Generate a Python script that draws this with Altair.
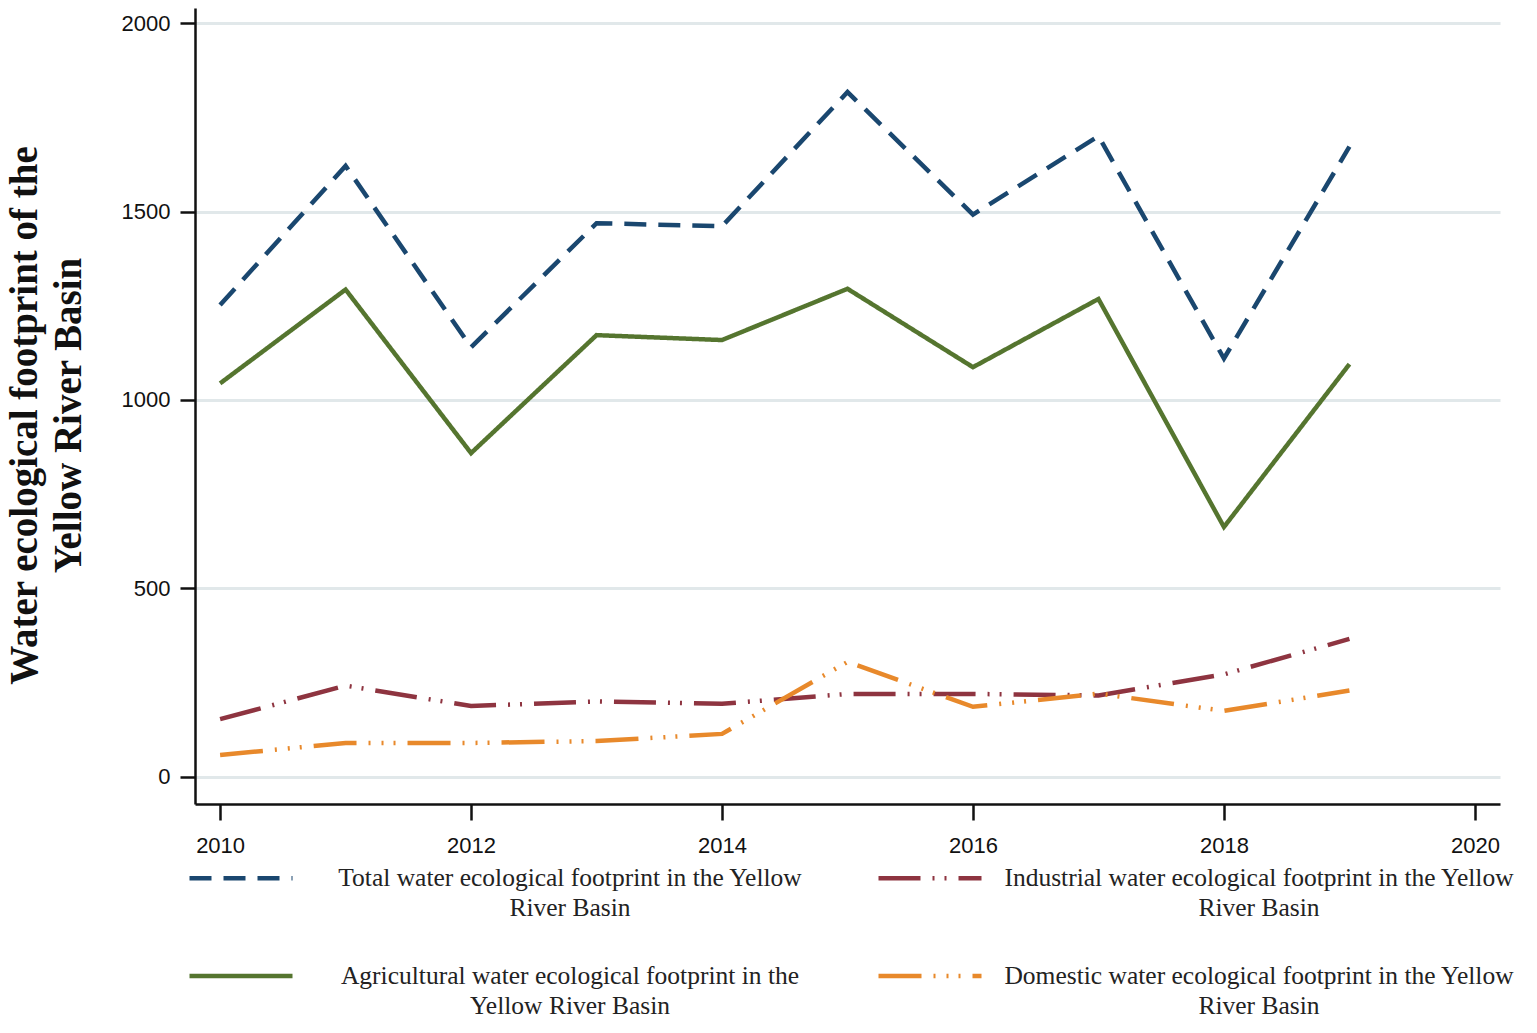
import altair as alt
import pandas as pd

years = [2010, 2011, 2012, 2013, 2014, 2015, 2016, 2017, 2018, 2019]
total = [1252, 1621, 1140, 1469, 1461, 1817, 1492, 1700, 1110, 1672]
agricultural = [1044, 1293, 859, 1172, 1159, 1295, 1087, 1268, 663, 1095]
industrial = [153, 242, 188, 200, 194, 220, 220, 216, 272, 366]
domestic = [58, 90, 90, 95, 114, 305, 186, 221, 175, 229]

keys = ["Total", "Industrial", "Agricultural", "Domestic"]
colors = ["#1A476F", "#8E3440", "#55752F", "#E8892B"]
dashes = [[22, 12], [42, 12, 2, 10, 2, 12], [1, 0], [43, 12, 2, 11, 2, 10, 2, 12]]
x_ticks = [2010, 2012, 2014, 2016, 2018, 2020]
y_ticks = [0, 500, 1000, 1500, 2000]

rows = []
for name, vals in [("Total", total), ("Agricultural", agricultural),
                   ("Industrial", industrial), ("Domestic", domestic)]:
    for yr, v in zip(years, vals):
        rows.append({"year": yr, "value": v, "series": name})
df = pd.DataFrame(rows)

label_expr = (
    "datum.value == 'Total' ? ['Total  water ecological footprint  in the Yellow', 'River Basin'] : "
    "datum.value == 'Industrial' ? ['Industrial water ecological footprint in the Yellow', 'River Basin'] : "
    "datum.value == 'Agricultural' ? ['Agricultural water ecological footprint in the', 'Yellow River Basin'] : "
    "['Domestic water ecological footprint in the Yellow', 'River Basin']"
)

legend = alt.Legend(
    orient="none", legendX=-8, legendY=816, columns=2, direction="horizontal",
    title=None,
    symbolType="stroke", symbolSize=10609, symbolStrokeWidth=4.5,
    labelFont="Liberation Serif", labelFontSize=25.5, labelColor="#222",
    labelLimit=1000, labelAlign="center", labelOffset=275,
    columnPadding=60, rowPadding=0, labelExpr=label_expr,
)

chart = alt.Chart(df).mark_line(strokeWidth=4.5, strokeCap="butt").encode(
    x=alt.X("year:Q",
            scale=alt.Scale(domain=[2009.8, 2020.2], nice=False, zero=False),
            axis=alt.Axis(values=x_ticks, format="d", title=None, grid=False,
                          labelFont="Liberation Sans", labelFontSize=22, labelColor="#111",
                          labelPadding=15, tickSize=16, tickWidth=2.5, tickColor="#111",
                          domainColor="#111", domainWidth=2.5)),
    y=alt.Y("value:Q",
            scale=alt.Scale(domain=[-72, 2040], nice=False, zero=False),
            axis=alt.Axis(values=y_ticks, format="d",
                          title=["Water ecological footprint of the", "Yellow River Basin"],
                          titleFont="Liberation Serif", titleFontWeight="bold",
                          titleFontSize=39, titleLineHeight=44, titleColor="#111",
                          titleAngle=270, titleX=-159, titleY=407,
                          titleAlign="center", titleBaseline="alphabetic",
                          grid=True, gridColor="#E1E8EA", gridWidth=3,
                          labelFont="Liberation Sans", labelFontSize=22, labelColor="#111",
                          labelPadding=10, tickSize=15, tickWidth=2.5, tickColor="#111",
                          domainColor="#111", domainWidth=2.5)),
    color=alt.Color("series:N", sort=keys,
                    scale=alt.Scale(domain=keys, range=colors), legend=legend),
    strokeDash=alt.StrokeDash("series:N", sort=keys,
                              scale=alt.Scale(domain=keys, range=dashes), legend=legend),
).properties(
    width=1305, height=796,
    autosize=alt.AutoSizeParams(type="none"),
    padding={"left": 187, "top": 0, "right": 25, "bottom": 221},
    background="white",
).configure(
    view={"stroke": None},
    style={"guide-label": {"lineHeight": 30}},
)

chart.save("out.html", embed_options={"renderer": "svg", "actions": False})
